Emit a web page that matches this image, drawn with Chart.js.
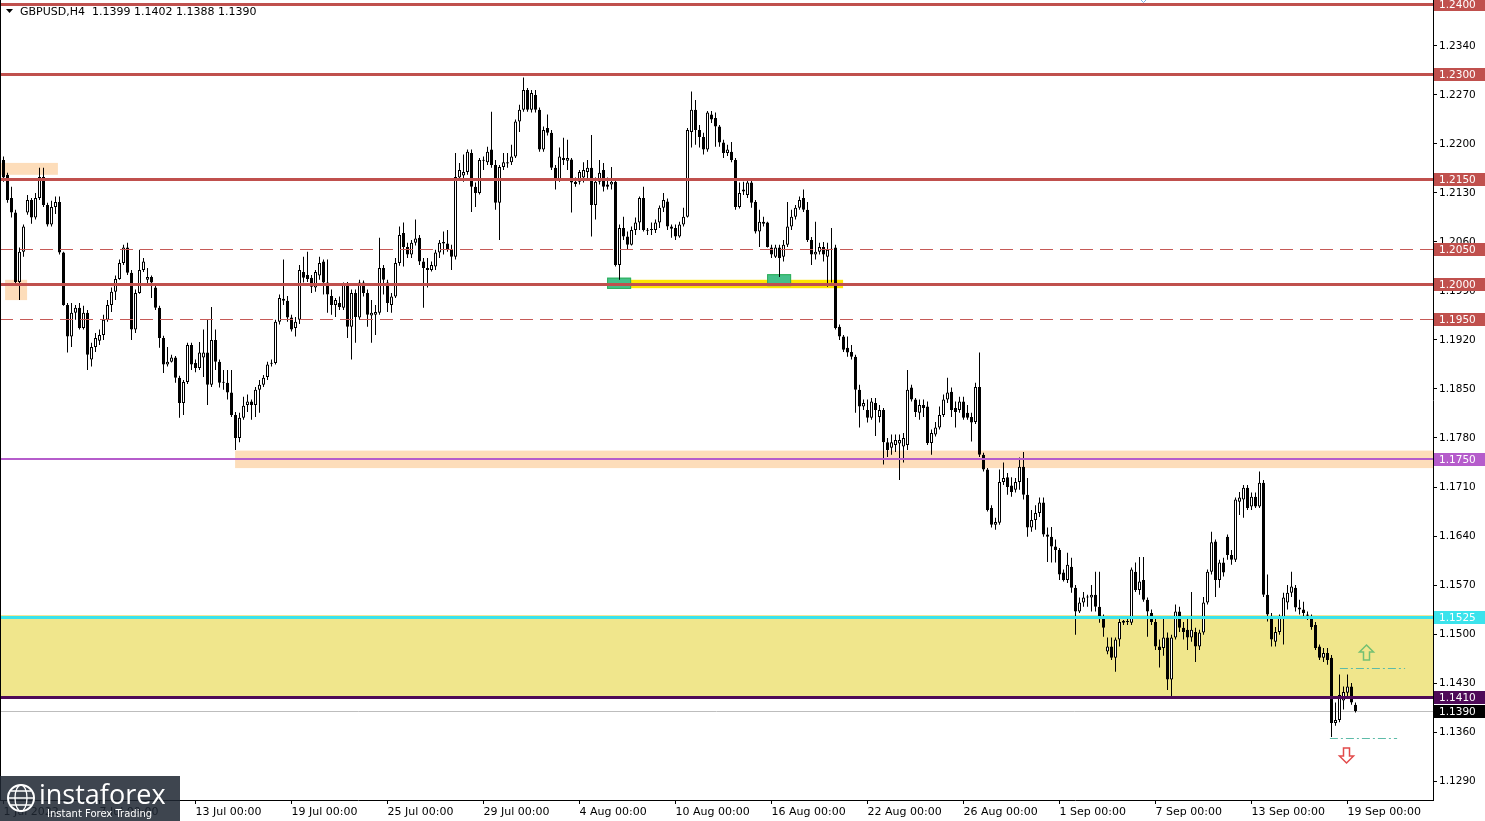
<!DOCTYPE html>
<html><head><meta charset="utf-8">
<script src="https://cdn.jsdelivr.net/npm/chart.js@4/dist/chart.umd.min.js"></script>
<style>html,body{margin:0;padding:0;background:#fff;overflow:hidden}canvas{display:block}</style>
</head><body>
<canvas id="c" width="1485" height="821" style="width:1485px;height:821px"></canvas>
<script>
// GBPUSD H4 candles, 1 Jul 2022 00:00 .. 19 Sep 2022 08:00 (bar index 0..338)
const OPEN=[1.2177,1.2156,1.2123,1.2102,1.2003,1.2046,1.2102,1.2120,1.2095,1.2123,
1.2153,1.2113,1.2085,1.2110,1.2117,1.2045,1.1970,1.1925,1.1959,1.1966,
1.1937,1.1959,1.1892,1.1910,1.1919,1.1927,1.1949,1.1970,1.1989,1.2007,
1.2030,1.2052,1.2016,1.1935,1.1987,1.2020,1.2006,1.2010,1.1995,1.1966,
1.1923,1.1885,1.1889,1.1895,1.1866,1.1830,1.1860,1.1913,1.1887,1.1880,
1.1895,1.1902,1.1856,1.1920,1.1889,1.1859,1.1859,1.1845,1.1813,1.1780,
1.1809,1.1827,1.1832,1.1827,1.1849,1.1856,1.1867,1.1886,1.1887,1.1946,
1.1979,1.1976,1.1952,1.1937,1.1949,1.2017,1.2013,1.2009,1.1995,1.2012,
1.2032,1.2002,1.1983,1.1970,1.1973,1.1966,1.1999,1.1939,1.1987,1.1952,
1.2002,1.1987,1.1955,1.1956,1.1959,1.2023,1.2002,1.1970,1.1982,1.2030,
1.2073,1.2053,1.2042,1.2059,1.2066,1.2032,1.2023,1.2020,1.2025,1.2045,
1.2060,1.2058,1.2049,1.2039,1.2152,1.2155,1.2160,1.2187,1.2139,1.2130,
1.2176,1.2174,1.2192,1.2170,1.2116,1.2167,1.2172,1.2174,1.2182,1.2232,
1.2249,1.2277,1.2249,1.2270,1.2249,1.2192,1.2223,1.2216,1.2166,1.2149,
1.2180,1.2176,1.2178,1.2146,1.2146,1.2152,1.2160,1.2166,1.2113,1.2146,
1.2163,1.2142,1.2142,1.2146,1.2027,1.2080,1.2068,1.2056,1.2077,1.2088,
1.2123,1.2077,1.2077,1.2077,1.2088,1.2109,1.2118,1.2082,1.2080,1.2068,
1.2085,1.2096,1.2217,1.2249,1.2220,1.2210,1.2192,1.2242,1.2237,1.2225,
1.2202,1.2187,1.2189,1.2177,1.2110,1.2132,1.2127,1.2145,1.2117,1.2075,
1.2086,1.2088,1.2052,1.2039,1.2052,1.2039,1.2056,1.2082,1.2096,1.2109,
1.2123,1.2106,1.2063,1.2042,1.2046,1.2053,1.2039,1.2049,1.2052,1.1939,
1.1925,1.1909,1.1903,1.1896,1.1849,1.1825,1.1820,1.1809,1.1830,1.1810,
1.1820,1.1774,1.1766,1.1770,1.1772,1.1768,1.1770,1.1852,1.1835,1.1816,
1.1827,1.1825,1.1773,1.1785,1.1795,1.1813,1.1835,1.1846,1.1823,1.1820,
1.1832,1.1816,1.1810,1.1803,1.1853,1.1756,1.1735,1.1680,1.1656,1.1659,
1.1717,1.1724,1.1712,1.1706,1.1717,1.1739,1.1699,1.1652,1.1663,1.1673,
1.1688,1.1642,1.1639,1.1625,1.1620,1.1588,1.1577,1.1596,1.1566,1.1532,
1.1545,1.1552,1.1552,1.1556,1.1539,1.1523,1.1475,1.1482,1.1466,1.1492,
1.1516,1.1517,1.1516,1.1589,1.1563,1.1577,1.1549,1.1530,1.1517,1.1482,
1.1480,1.1495,1.1435,1.1495,1.1532,1.1509,1.1506,1.1495,1.1503,1.1482,
1.1502,1.1545,1.1589,1.1632,1.1577,1.1602,1.1639,1.1613,1.1606,1.1689,
1.1692,1.1709,1.1682,1.1696,1.1682,1.1716,1.1556,1.1525,1.1489,1.1503,
1.1523,1.1545,1.1559,1.1566,1.1538,1.1535,1.1528,1.1525,1.1513,1.1482,
1.1466,1.1473,1.1466,1.1373,1.1377,1.1405,1.1416,1.1425,1.1399];
const HIGH=[1.2182,1.2159,1.2139,1.2106,1.2052,1.2085,1.2127,1.2123,1.2130,1.2166,
1.2166,1.2116,1.2119,1.2125,1.2125,1.2046,1.1973,1.1973,1.1970,1.1973,
1.1969,1.1963,1.1916,1.1930,1.1935,1.1956,1.1977,1.1995,1.2012,1.2035,
1.2056,1.2059,1.2020,1.1992,1.2049,1.2037,1.2023,1.2012,1.1998,1.1969,
1.1926,1.1910,1.1899,1.1897,1.1869,1.1863,1.1916,1.1916,1.1892,1.1917,
1.1935,1.1949,1.1967,1.1935,1.1892,1.1877,1.1877,1.1877,1.1817,1.1816,
1.1839,1.1842,1.1835,1.1853,1.1863,1.1870,1.1889,1.1892,1.1949,1.1985,
1.2035,1.1983,1.1956,1.1953,1.2027,1.2039,1.2046,1.2013,1.2020,1.2039,
1.2035,1.2035,1.1992,1.1980,1.1982,1.2002,1.2003,1.1992,1.1992,1.2006,
1.2005,1.1992,1.1977,1.1970,1.2066,1.2027,1.2006,1.1987,1.2037,1.2082,
1.2088,1.2059,1.2063,1.2092,1.2070,1.2037,1.2037,1.2032,1.2049,1.2063,
1.2075,1.2077,1.2056,1.2187,1.2173,1.2185,1.2192,1.2192,1.2145,1.2180,
1.2182,1.2196,1.2246,1.2177,1.2170,1.2187,1.2187,1.2199,1.2235,1.2256,
1.2295,1.2280,1.2277,1.2277,1.2252,1.2225,1.2242,1.2220,1.2170,1.2195,
1.2209,1.2206,1.2180,1.2152,1.2163,1.2174,1.2177,1.2213,1.2152,1.2177,
1.2173,1.2152,1.2167,1.2149,1.2085,1.2096,1.2075,1.2082,1.2095,1.2125,
1.2139,1.2080,1.2088,1.2092,1.2112,1.2130,1.2122,1.2085,1.2085,1.2089,
1.2109,1.2223,1.2275,1.2263,1.2227,1.2216,1.2247,1.2247,1.2245,1.2227,
1.2206,1.2199,1.2203,1.2180,1.2145,1.2146,1.2149,1.2149,1.2120,1.2106,
1.2096,1.2089,1.2056,1.2056,1.2056,1.2063,1.2117,1.2106,1.2113,1.2125,
1.2135,1.2117,1.2067,1.2089,1.2059,1.2060,1.2059,1.2080,1.2056,1.1942,
1.1927,1.1925,1.1913,1.1899,1.1856,1.1835,1.1835,1.1837,1.1837,1.1827,
1.1823,1.1780,1.1785,1.1785,1.1785,1.1787,1.1877,1.1856,1.1837,1.1835,
1.1835,1.1832,1.1792,1.1803,1.1825,1.1842,1.1866,1.1852,1.1832,1.1839,
1.1839,1.1827,1.1816,1.1859,1.1902,1.1759,1.1737,1.1684,1.1666,1.1735,
1.1745,1.1730,1.1724,1.1723,1.1752,1.1760,1.1723,1.1677,1.1684,1.1695,
1.1695,1.1652,1.1653,1.1635,1.1623,1.1592,1.1616,1.1609,1.1570,1.1552,
1.1560,1.1556,1.1570,1.1589,1.1589,1.1528,1.1495,1.1495,1.1495,1.1523,
1.1520,1.1523,1.1595,1.1602,1.1610,1.1610,1.1552,1.1535,1.1523,1.1492,
1.1523,1.1502,1.1499,1.1542,1.1539,1.1517,1.1523,1.1560,1.1509,1.1506,
1.1553,1.1592,1.1646,1.1635,1.1606,1.1609,1.1642,1.1620,1.1695,1.1703,
1.1713,1.1713,1.1702,1.1702,1.1732,1.1720,1.1585,1.1530,1.1510,1.1528,
1.1559,1.1570,1.1589,1.1570,1.1549,1.1546,1.1532,1.1528,1.1517,1.1485,
1.1480,1.1480,1.1470,1.1402,1.1442,1.1425,1.1442,1.1430,1.1402];
const LOW=[1.2146,1.2116,1.2095,1.2000,1.1977,1.2039,1.2099,1.2086,1.2092,1.2120,
1.2110,1.2082,1.2082,1.2100,1.2042,1.1969,1.1902,1.1910,1.1949,1.1935,
1.1935,1.1877,1.1882,1.1903,1.1913,1.1920,1.1946,1.1960,1.1977,1.2006,
1.2027,1.2013,1.1920,1.1930,1.1986,1.2017,1.1999,1.1980,1.1963,1.1909,
1.1873,1.1882,1.1888,1.1859,1.1809,1.1813,1.1857,1.1877,1.1874,1.1877,
1.1867,1.1827,1.1853,1.1877,1.1852,1.1849,1.1835,1.1810,1.1763,1.1774,
1.1806,1.1817,1.1806,1.1810,1.1816,1.1853,1.1863,1.1882,1.1885,1.1942,
1.1970,1.1946,1.1932,1.1925,1.1943,1.2002,1.2003,1.1987,1.1989,1.2006,
1.1985,1.1959,1.1956,1.1953,1.1963,1.1963,1.1923,1.1892,1.1916,1.1949,
1.1982,1.1939,1.1916,1.1927,1.1956,1.1985,1.1960,1.1959,1.1980,1.2026,
1.2025,1.2037,1.2037,1.2055,1.2027,1.1966,1.1995,1.2018,1.2020,1.2037,
1.2042,1.2046,1.2020,1.2035,1.2149,1.2146,1.2156,1.2103,1.2110,1.2128,
1.2163,1.2170,1.2166,1.2106,1.2063,1.2163,1.2166,1.2170,1.2180,1.2217,
1.2246,1.2246,1.2245,1.2245,1.2189,1.2189,1.2212,1.2163,1.2135,1.2146,
1.2170,1.2163,1.2102,1.2139,1.2142,1.2145,1.2149,1.2068,1.2092,1.2142,
1.2132,1.2135,1.2135,1.2025,1.2006,1.2063,1.2049,1.2055,1.2070,1.2077,
1.2075,1.2070,1.2070,1.2073,1.2080,1.2103,1.2077,1.2066,1.2063,1.2066,
1.2082,1.2095,1.2195,1.2199,1.2195,1.2185,1.2189,1.2230,1.2196,1.2196,
1.2180,1.2183,1.2174,1.2106,1.2108,1.2127,1.2123,1.2109,1.2072,1.2053,
1.2082,1.2052,1.2037,1.2037,1.2010,1.2032,1.2053,1.2077,1.2092,1.2106,
1.2103,1.2060,1.2027,1.2035,1.2042,1.2032,1.1996,1.2002,1.1935,1.1920,
1.1903,1.1896,1.1892,1.1816,1.1795,1.1820,1.1802,1.1806,1.1783,1.1802,
1.1742,1.1753,1.1756,1.1760,1.1720,1.1745,1.1763,1.1832,1.1810,1.1806,
1.1810,1.1770,1.1756,1.1782,1.1792,1.1810,1.1830,1.1810,1.1795,1.1816,
1.1806,1.1806,1.1775,1.1800,1.1753,1.1732,1.1675,1.1652,1.1649,1.1656,
1.1713,1.1699,1.1696,1.1702,1.1706,1.1692,1.1639,1.1646,1.1649,1.1667,
1.1639,1.1603,1.1602,1.1602,1.1577,1.1575,1.1573,1.1559,1.1499,1.1530,
1.1539,1.1539,1.1532,1.1532,1.1516,1.1496,1.1471,1.1463,1.1446,1.1482,
1.1513,1.1513,1.1513,1.1560,1.1556,1.1546,1.1496,1.1513,1.1477,1.1452,
1.1469,1.1420,1.1410,1.1492,1.1503,1.1492,1.1477,1.1489,1.1460,1.1477,
1.1499,1.1542,1.1585,1.1553,1.1566,1.1582,1.1606,1.1599,1.1603,1.1670,
1.1666,1.1677,1.1677,1.1680,1.1680,1.1553,1.1518,1.1482,1.1482,1.1499,
1.1485,1.1535,1.1553,1.1532,1.1528,1.1525,1.1520,1.1506,1.1477,1.1463,
1.1460,1.1456,1.1353,1.1369,1.1374,1.1392,1.1410,1.1399,1.1388];
const CLOSE=[1.2152,1.2120,1.2102,1.2003,1.2046,1.2082,1.2120,1.2095,1.2123,1.2153,
1.2113,1.2085,1.2110,1.2117,1.2045,1.1970,1.1925,1.1959,1.1966,1.1937,
1.1959,1.1899,1.1910,1.1923,1.1927,1.1949,1.1970,1.1989,1.2007,1.2030,
1.2052,1.2016,1.1935,1.1987,1.2020,1.2032,1.2010,1.2002,1.1966,1.1923,
1.1885,1.1889,1.1895,1.1866,1.1830,1.1860,1.1913,1.1885,1.1880,1.1902,
1.1902,1.1856,1.1920,1.1889,1.1859,1.1860,1.1845,1.1813,1.1780,1.1809,
1.1826,1.1832,1.1827,1.1849,1.1856,1.1866,1.1885,1.1887,1.1946,1.1980,
1.1976,1.1952,1.1935,1.1946,1.2020,1.2009,1.2007,1.1996,1.2017,1.2030,
1.2002,1.1985,1.1970,1.1977,1.1967,1.1999,1.1939,1.1987,1.1953,1.2002,
1.1987,1.1956,1.1959,1.1960,1.2023,1.2006,1.1973,1.1982,1.2030,1.2070,
1.2053,1.2042,1.2059,1.2065,1.2032,1.2023,1.2020,1.2027,1.2045,1.2059,
1.2058,1.2049,1.2039,1.2153,1.2163,1.2160,1.2189,1.2139,1.2130,1.2177,
1.2177,1.2189,1.2170,1.2116,1.2167,1.2174,1.2174,1.2182,1.2232,1.2249,
1.2277,1.2249,1.2273,1.2249,1.2192,1.2220,1.2216,1.2166,1.2149,1.2182,
1.2177,1.2180,1.2145,1.2143,1.2160,1.2163,1.2166,1.2113,1.2146,1.2159,
1.2139,1.2139,1.2146,1.2027,1.2080,1.2068,1.2056,1.2077,1.2088,1.2123,
1.2077,1.2076,1.2077,1.2088,1.2109,1.2120,1.2082,1.2079,1.2068,1.2085,
1.2096,1.2220,1.2249,1.2220,1.2210,1.2192,1.2245,1.2235,1.2225,1.2202,
1.2187,1.2192,1.2177,1.2110,1.2130,1.2135,1.2145,1.2116,1.2075,1.2089,
1.2089,1.2053,1.2042,1.2052,1.2037,1.2056,1.2082,1.2096,1.2109,1.2120,
1.2106,1.2063,1.2042,1.2046,1.2053,1.2042,1.2049,1.2050,1.1937,1.1925,
1.1906,1.1902,1.1896,1.1849,1.1825,1.1830,1.1809,1.1832,1.1820,1.1820,
1.1774,1.1763,1.1774,1.1777,1.1777,1.1780,1.1849,1.1835,1.1817,1.1827,
1.1823,1.1773,1.1787,1.1795,1.1813,1.1835,1.1845,1.1820,1.1817,1.1832,
1.1809,1.1809,1.1802,1.1853,1.1756,1.1735,1.1677,1.1656,1.1660,1.1717,
1.1723,1.1710,1.1703,1.1717,1.1739,1.1699,1.1652,1.1663,1.1673,1.1688,
1.1642,1.1639,1.1625,1.1620,1.1585,1.1577,1.1599,1.1566,1.1532,1.1545,
1.1552,1.1553,1.1556,1.1539,1.1525,1.1509,1.1482,1.1466,1.1492,1.1517,
1.1519,1.1517,1.1592,1.1563,1.1575,1.1549,1.1532,1.1517,1.1482,1.1477,
1.1495,1.1435,1.1495,1.1532,1.1509,1.1503,1.1495,1.1506,1.1482,1.1502,
1.1545,1.1589,1.1631,1.1577,1.1602,1.1588,1.1613,1.1606,1.1692,1.1695,
1.1709,1.1680,1.1696,1.1682,1.1716,1.1556,1.1528,1.1492,1.1503,1.1523,
1.1552,1.1559,1.1568,1.1538,1.1535,1.1530,1.1526,1.1510,1.1480,1.1466,
1.1473,1.1463,1.1373,1.1377,1.1413,1.1417,1.1425,1.1402,1.1390];

// time axis labels (bar index of each label, text)
const TICK_IDX=[0,24,48,72,96,120,144,168,192,216,240,264,288,312,336];
const TICK_TXT=["1 Jul 2022","7 Jul 00:00","13 Jul 00:00","19 Jul 00:00","25 Jul 00:00","29 Jul 00:00","4 Aug 00:00","10 Aug 00:00","16 Aug 00:00","22 Aug 00:00","26 Aug 00:00","1 Sep 00:00","7 Sep 00:00","13 Sep 00:00","19 Sep 00:00"];
// price axis labels
const Y_TICKS=[1.2340,1.2270,1.2200,1.2130,1.2060,1.1990,1.1920,1.1850,1.1780,1.1710,1.1640,1.1570,1.1500,1.1430,1.1360,1.1290];
// horizontal levels
const LEVELS_SOLID=[1.2400,1.2300,1.2150,1.2000];
const LEVELS_DASH=[1.2050,1.1950];
const LEVEL_1750=1.1750, LEVEL_1525=1.1525, LEVEL_1410=1.1410, LAST_PRICE=1.1390;
const HEADER="GBPUSD,H4  1.1399 1.1402 1.1388 1.1390";

const RED='#C0504D', PEACH='#FDDDBA', KHAKI='#F0E68C', PURPLE='#B55CCB', CYAN='#3BE3EC', DPURPLE='#4E0A58';

const bodyData=OPEN.map((o,i)=>({x:i,y:[o,CLOSE[i]]}));
const wickData=LOW.map((l,i)=>({x:i,y:[l,HIGH[i]]}));
const bodyFill=OPEN.map((o,i)=>CLOSE[i]>=o?'#FFFFFF':'#000000');

function clipArea(ctx,a){ctx.beginPath();ctx.rect(a.left,a.top,a.right-a.left,a.bottom-a.top);ctx.clip();}

const overlay={
  id:'overlay',
  beforeDatasetsDraw(chart){
    const {ctx,chartArea:a,scales:{x,y}}=chart;
    ctx.save(); clipArea(ctx,a);
    const rect=(i0,i1,p0,p1,fill,stroke)=>{
      const X0=i0===null?a.left:x.getPixelForValue(i0), X1=i1===null?a.right:x.getPixelForValue(i1);
      const Y0=y.getPixelForValue(p0), Y1=y.getPixelForValue(p1);
      ctx.fillStyle=fill; ctx.fillRect(Math.min(X0,X1),Math.min(Y0,Y1),Math.abs(X1-X0),Math.abs(Y1-Y0));
      if(stroke){ctx.strokeStyle=stroke;ctx.lineWidth=1;ctx.strokeRect(Math.min(X0,X1)+0.5,Math.min(Y0,Y1)+0.5,Math.abs(X1-X0)-1,Math.abs(Y1-Y0)-1);}
    };
    rect(null,null,1.1527,1.1410,KHAKI);
    rect(null,13.6,1.2173,1.2156,PEACH);
    rect(0.4,5.9,1.2006,1.1977,PEACH);
    rect(57.9,null,1.1762,1.1737,PEACH);
    rect(150.9,209.9,1.2006,1.1994,'#FFE600');
    rect(150.9,156.9,1.2009,1.1993,'#45C08A','#2FAF5A');
    rect(190.9,196.9,1.2014,1.1997,'#45C08A','#2FAF5A');
    // last price line
    const yl=Math.round(y.getPixelForValue(LAST_PRICE))+0.5;
    ctx.strokeStyle='#BDBDBD'; ctx.lineWidth=1; ctx.beginPath(); ctx.moveTo(a.left,yl); ctx.lineTo(a.right,yl); ctx.stroke();
    ctx.restore();
  },
  afterDatasetsDraw(chart){
    const {ctx,chartArea:a,scales:{x,y}}=chart;
    ctx.save(); clipArea(ctx,a);
    const h=(v,color,w,dash,i0,i1)=>{
      const yy=y.getPixelForValue(v);
      const X0=i0==null?a.left:x.getPixelForValue(i0), X1=i1==null?a.right:x.getPixelForValue(i1);
      ctx.strokeStyle=color; ctx.lineWidth=w; ctx.setLineDash(dash||[]);
      const yp=w%2?Math.round(yy)+0.5:Math.round(yy);
      ctx.beginPath(); ctx.moveTo(X0,yp); ctx.lineTo(X1,yp); ctx.stroke();
    };
    LEVELS_SOLID.forEach(v=>h(v,RED,3));
    LEVELS_DASH.forEach(v=>h(v,'#C65A57',1,[13,7]));
    h(LEVEL_1750,PURPLE,2);
    h(LEVEL_1525,CYAN,3);
    h(LEVEL_1410,DPURPLE,3);
    h(1.1452,'#5DBBA8',1,[8,3,2,3],334.1,350.4);
    h(1.1352,'#5DBBA8',1,[8,3,2,3],331.6,348.4);
    ctx.setLineDash([]);
    // arrows
    const arrow=(i,p,up,color)=>{
      const cx=Math.round(x.getPixelForValue(i))+0.5, cy=Math.round(y.getPixelForValue(p))+0.5;
      const s=up?-1:1;
      ctx.strokeStyle=color; ctx.lineWidth=1.5; ctx.beginPath();
      ctx.moveTo(cx,cy+s*7.5);
      ctx.lineTo(cx+7,cy+s*0.5);
      ctx.lineTo(cx+3,cy+s*0.5);
      ctx.lineTo(cx+3,cy-s*7.5);
      ctx.lineTo(cx-3,cy-s*7.5);
      ctx.lineTo(cx-3,cy+s*0.5);
      ctx.lineTo(cx-7,cy+s*0.5);
      ctx.closePath(); ctx.stroke();
    };
    arrow(340.6,1.1475,true,'#73C073');
    arrow(335.6,1.1327,false,'#E24B4B');
    // small marker at the top
    const mx=Math.round(x.getPixelForValue(284.9))+0.5, my=Math.round(y.getPixelForValue(1.2403))+0.5;
    ctx.strokeStyle='#7FB2E5'; ctx.lineWidth=1; ctx.beginPath(); ctx.moveTo(mx-3,my-3); ctx.lineTo(mx,my); ctx.lineTo(mx+3,my-3); ctx.stroke();
    // left frame
    ctx.fillStyle='#000'; ctx.fillRect(a.left,a.top,1,a.bottom-a.top);
    ctx.restore();
  },
  afterDraw(chart){
    const {ctx,chartArea:a,scales:{y}}=chart;
    ctx.save();
    const boxes=[[1.2400,RED],[1.2300,RED],[1.2150,RED],[1.2050,RED],[1.2000,RED],[1.1950,RED],[LEVEL_1750,PURPLE],[LEVEL_1525,CYAN],[LEVEL_1410,DPURPLE],[LAST_PRICE,'#000000']];
    ctx.font='10.5px "DejaVu Sans"'; ctx.textBaseline='middle'; ctx.textAlign='left';
    boxes.forEach(([v,c])=>{
      const yy=Math.round(y.getPixelForValue(v));
      ctx.fillStyle=c; ctx.fillRect(a.right+1,yy-6,chart.width-a.right-1,13);
      ctx.fillStyle='#FFFFFF'; ctx.fillText(v.toFixed(4),a.right+6,yy+1);
    });
    // header
    ctx.fillStyle='#000';
    ctx.beginPath(); ctx.moveTo(6,9); ctx.lineTo(13,9); ctx.lineTo(9.5,13); ctx.closePath(); ctx.fill();
    ctx.font='11px "DejaVu Sans"'; ctx.textBaseline='middle';
    ctx.fillText(HEADER,20,12);
    // logo
    ctx.fillStyle='rgba(30,38,50,0.86)'; ctx.fillRect(0,776,180,45);
    ctx.strokeStyle='#FFFFFF'; ctx.lineWidth=2;
    ctx.beginPath(); ctx.arc(21,798,13,0,Math.PI*2); ctx.stroke();
    ctx.lineWidth=1.3;
    ctx.beginPath(); ctx.ellipse(21,798,6,13,0,0,Math.PI*2); ctx.stroke();
    ctx.beginPath(); ctx.moveTo(8,798); ctx.lineTo(34,798); ctx.moveTo(11,791); ctx.lineTo(31,791); ctx.moveTo(11,805); ctx.lineTo(31,805); ctx.stroke();
    ctx.fillStyle='#FFFFFF'; ctx.textBaseline='alphabetic';
    ctx.font='27px "Open Sans"'; ctx.fillText('instaforex',39,804);
    ctx.font='10px "DejaVu Sans"'; ctx.fillText('Instant Forex Trading',47,817);
    ctx.restore();
  }
};

new Chart(document.getElementById('c'),{
  type:'bar',
  data:{datasets:[
    {label:'body',data:bodyData,backgroundColor:bodyFill,borderColor:'#000',borderWidth:1,borderSkipped:false,barThickness:3,minBarLength:1,grouped:false,order:0,inflateAmount:0},
    {label:'wick',data:wickData,backgroundColor:'#000',borderWidth:0,barThickness:1,minBarLength:1,grouped:false,order:1,inflateAmount:0}
  ]},
  options:{
    responsive:false,animation:false,devicePixelRatio:1,
    layout:{padding:0,autoPadding:false},
    plugins:{legend:{display:false},tooltip:{enabled:false},title:{display:false}},
    scales:{
      x:{type:'linear',min:-0.875,max:357.375,offset:false,bounds:'data',
        grid:{display:true,drawOnChartArea:false,drawTicks:true,tickLength:4,color:'#000',offset:false},
        border:{display:true,color:'#000',width:1},
        ticks:{autoSkip:false,maxRotation:0,minRotation:0,align:'start',padding:2,color:'#000',font:{family:'DejaVu Sans',size:11},
          callback:(v)=>{const k=TICK_IDX.indexOf(v);return k>=0?TICK_TXT[k]:'';}},
        afterBuildTicks:(s)=>{s.ticks=TICK_IDX.map(v=>({value:v}));},
        afterFit:(s)=>{s.height=21;s.paddingLeft=0;s.paddingRight=0;s.paddingTop=0;s.paddingBottom=0;}
      },
      y:{type:'linear',position:'right',min:1.126286,max:1.240571,bounds:'data',beginAtZero:false,
        grid:{display:true,drawOnChartArea:false,drawTicks:true,tickLength:4,color:'#000'},
        border:{display:true,color:'#000',width:1},
        ticks:{autoSkip:false,padding:2,color:'#000',font:{family:'DejaVu Sans',size:10.5},callback:(v)=>Number(v).toFixed(4)},
        afterBuildTicks:(s)=>{s.ticks=Y_TICKS.map(v=>({value:v}));},
        afterFit:(s)=>{s.width=52;s.paddingLeft=0;s.paddingRight=0;s.paddingTop=0;s.paddingBottom=0;}
      }
    }
  },
  plugins:[overlay]
});
</script>
</body></html>
